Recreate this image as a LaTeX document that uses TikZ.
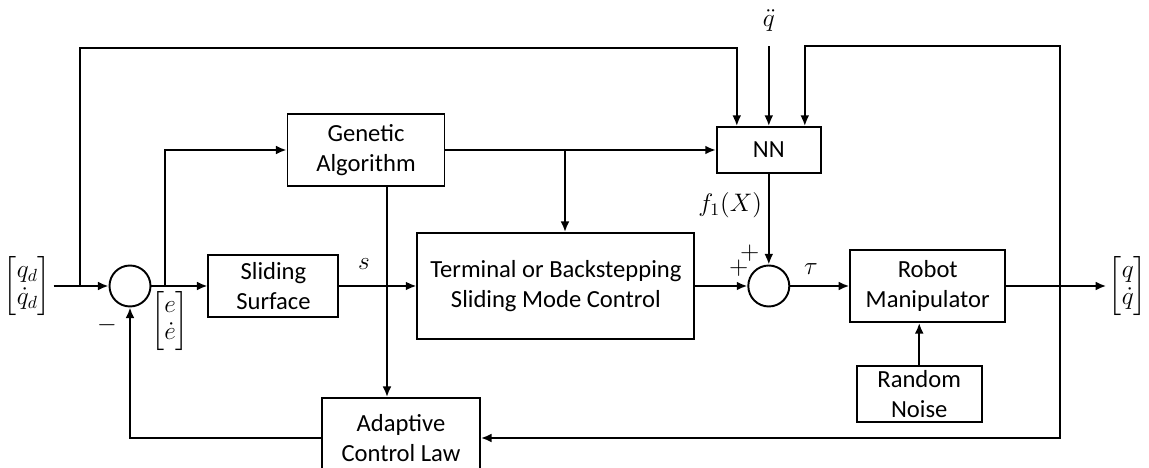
\documentclass[tikz,border=0pt]{standalone}
\usepackage{amsmath,amssymb}
\usepackage{fontspec}
\setmainfont{Carlito}
\usepackage{tikz}
\usetikzlibrary{arrows.meta,positioning,calc}
\newcommand{\vecpair}[2]{\renewcommand{\arraystretch}{0.9}\begin{bmatrix} #1\\ #2\end{bmatrix}}

\begin{document}
\begin{tikzpicture}[
    node distance=1cm,
    font=\fontsize{14}{17}\selectfont,
    line width=1.1pt,
    >={Latex[length=6pt,width=5pt]},
    box/.style={rectangle, draw, align=center, inner sep=0pt},
    sumjunc/.style={circle, draw, minimum size=0.82cm, inner sep=0pt},
    sig/.style={inner sep=1pt}
]
    \useasboundingbox (-2.6,-3.64) rectangle (20.38,5.72);

    % Main forward path
    \node[sumjunc] (sum1) at (0,0) {};
    \node[sig, left=1.1cm of sum1] (qd) {$\vecpair{q_d}{\dot{q}_d}$};
    \node[box, minimum width=2.6cm, minimum height=1.24cm, right=1.12cm of sum1] (ss) {Sliding\\Surface};
    \node[box, minimum width=5.54cm, minimum height=2.12cm, right=1.54cm of ss] (tsmc) {Terminal or Backstepping\\Sliding Mode Control};
    \node[sumjunc, right=1.04cm of tsmc] (sum2) {};
    \node[box, minimum width=3.1cm, minimum height=1.44cm, right=1.18cm of sum2] (robot) {Robot\\Manipulator};
    \node[sig, right=2.0cm of robot] (qout) {$\vecpair{q}{\dot{q}}$};
    \node[box, minimum width=2.5cm, minimum height=1.12cm, below=0.84cm of robot, xshift=-0.17cm] (noise) {Random\\Noise};

    % Tuning and learning blocks
    \node[box, minimum width=3.14cm, minimum height=1.44cm] (ga) at (4.72,2.72) {Genetic\\Algorithm};
    \node[box, minimum width=2.08cm, minimum height=0.92cm] (nn) at (sum2 |- ga) {NN};
    \node[box, minimum width=3.16cm, minimum height=1.6cm] (adapt) at (5.42,-3.04) {Adaptive\\Control Law};

    % Branch points
    \coordinate (tapin) at ($(sum1)+(-1.0,0)$);
    \coordinate (tapga) at ($(sum1)+(0.7,0)$);
    \coordinate (tapsm) at (8.7,2.72);
    \coordinate (tapout) at (18.6,0);
    \coordinate (qin) at ($(nn.north)+(0,1.6)$);

    % Signal labels
    \node[inner sep=0pt, above=0.28cm of qin] (qdd) {$\ddot{q}$};
    \node[sig] (elab) at ($(sum1)+(0.8,-0.7)$) {$\vecpair{e}{\dot{e}}$};
    \node (minus) at ($(sum1)+(-0.46,-0.78)$) {$-$};
    \node (plusa) at ($(sum2)+(-0.6,0.36)$) {$+$};
    \node (plusb) at ($(sum2)+(-0.38,0.66)$) {$+$};

    % Edges
    \draw[->] (qd) -- (sum1);
    \draw[->] (sum1) -- (ss);
    \draw[->] (ss) -- node[above=0.2cm, pos=0.32] (slab) {$s$} (tsmc);
    \draw[->] (tsmc) -- (sum2);
    \draw[->] (sum2) -- node[above=0.1cm, pos=0.35] (taulab) {$\tau$} (robot);
    \draw[->] (robot) -- (qout);
    \draw[->] (noise) -- (noise |- robot.south);
    \draw[->] (nn) -- node[left, pos=0.35] (flab) {$f_1(X)$} (sum2);
    \draw[->] (ga) -- (nn);
    \draw[->] (tapsm) -- (tapsm |- tsmc.north);
    \draw[->] (tapga) |- (ga);
    \draw[->] ([xshift=0.42cm]ga.south) -- ([xshift=0.42cm]ga.south |- adapt.north);
    \draw[->] (adapt) -| (sum1);
    \draw[->] (tapout) |- (adapt);
    \draw[->] (tapin) -- ++(0,4.76) -| ([xshift=-0.64cm]nn.north);
    \draw[->] (tapout) -- ++(0,4.8) -| ([xshift=0.72cm]nn.north);
    \draw[->] (qin) -- (qin |- nn.north);
\end{tikzpicture}
\end{document}
